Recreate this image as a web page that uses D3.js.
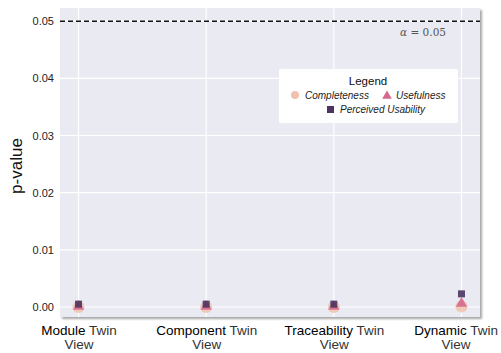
<!DOCTYPE html>
<html><head><meta charset="utf-8">
<script src="https://cdn.jsdelivr.net/npm/d3@7"></script>
<style>body{margin:0;background:#fff}</style>
</head><body><svg id="c" width="501" height="353"></svg>
<script>
const categories = ["Module", "Component", "Traceability", "Dynamic"];
const completeness = [0.0000, 0.0000, 0.0000, 0.0001];
const usefulness = [0.0001, 0.0001, 0.0001, 0.0006];
const perceivedUsability = [0.0005, 0.0005, 0.0005, 0.0023];
const yTicks = [0.00, 0.01, 0.02, 0.03, 0.04, 0.05];
const alpha = 0.05;

const svg = d3.select("#c");
const L = 60, R = 480, T = 8, B = 317;
const x = d3.scalePoint().domain(categories).range([L, R]).padding(0.145);
const y = d3.scaleLinear().domain([-0.00175, 0.0523]).range([B, T]);

const defs = svg.append("defs");
const f = defs.append("filter").attr("id","sh").attr("x","-5%").attr("y","-5%").attr("width","115%").attr("height","115%");
f.append("feDropShadow").attr("dx",2).attr("dy",2).attr("stdDeviation",1.2).attr("flood-color","#000").attr("flood-opacity",0.35);

svg.append("rect").attr("x",L).attr("y",T).attr("width",R-L).attr("height",B-T).attr("fill","#eaeaf2").attr("filter","url(#sh)");

// grid
svg.append("g").selectAll("line").data(yTicks).join("line")
  .attr("x1",L).attr("x2",R).attr("y1",d=>y(d)).attr("y2",d=>y(d))
  .attr("stroke","#fff").attr("stroke-width",1.2);
svg.append("g").selectAll("line").data(categories).join("line")
  .attr("x1",d=>x(d)).attr("x2",d=>x(d)).attr("y1",T).attr("y2",B)
  .attr("stroke","#fff").attr("stroke-width",1.2);

// y axis
const yAxis = d3.axisLeft(y).tickValues(yTicks).tickFormat(d3.format(".2f")).tickSize(0).tickPadding(6);
const gy = svg.append("g").attr("transform",`translate(${L},0)`).call(yAxis);
gy.select(".domain").remove();
gy.selectAll("text").attr("font-family","Liberation Sans, Arial, sans-serif").attr("font-size",11).attr("fill","#222");

// x axis labels
const xAxis = d3.axisBottom(x).tickSize(0).tickFormat("");
const gx = svg.append("g").attr("transform",`translate(0,${B})`).call(xAxis);
gx.select(".domain").remove();
gx.selectAll(".tick").each(function(d){
  const t = d3.select(this).append("text").attr("text-anchor","middle")
    .attr("font-family","Liberation Sans, Arial, sans-serif").attr("font-size",13.5).attr("fill","#111");
  const l1 = t.append("tspan").attr("x",0).attr("y",18);
  l1.append("tspan").text(d).attr("fill","#000");
  l1.append("tspan").text(" Twin").attr("fill","#333");
  t.append("tspan").attr("x",0).attr("y",32).text("View").attr("fill","#333");
  // keep inside the right edge
  const bb = this.getBoundingClientRect();
  const over = bb.right - 498;
  if (over > 0) t.attr("transform",`translate(${-over},0)`);
});

svg.append("text").attr("transform","translate(22,166) rotate(-90)").attr("text-anchor","middle")
  .attr("font-family","Liberation Sans, Arial, sans-serif").attr("font-size",17).attr("fill","#111").text("p-value");

// alpha line
svg.append("line").attr("x1",L).attr("x2",R).attr("y1",y(alpha)).attr("y2",y(alpha))
  .attr("stroke","#111").attr("stroke-width",1.5).attr("stroke-dasharray","5,3");
svg.append("text").attr("x",446).attr("y",36).attr("text-anchor","end")
  .attr("font-family","DejaVu Serif, serif").attr("font-size",10.5).attr("fill","#555")
  .html('<tspan font-style="italic">α</tspan> = 0.05');

// markers
const cCol = "#f0c2ad", tCol = "#d4698d", sCol = "#4b3560";
svg.append("g").selectAll("circle").data(completeness).join("circle")
  .attr("cx",(d,i)=>x(categories[i])).attr("cy",d=>y(d)).attr("r",6).attr("fill",cCol).attr("opacity",0.85);
const tri = d3.symbol().type(d3.symbolTriangle).size(55);
svg.append("g").selectAll("path").data(usefulness).join("path")
  .attr("d",tri).attr("transform",(d,i)=>`translate(${x(categories[i])},${y(d)})`).attr("fill",tCol).attr("opacity",0.9);
svg.append("g").selectAll("rect").data(perceivedUsability).join("rect")
  .attr("x",(d,i)=>x(categories[i])-3.5).attr("y",d=>y(d)-3.5).attr("width",7).attr("height",7)
  .attr("fill",sCol).attr("opacity",0.9);

// legend
const lg = svg.append("g");
lg.append("rect").attr("x",279).attr("y",69).attr("width",179).attr("height",54).attr("rx",2).attr("fill","#fff");
lg.append("text").attr("x",368).attr("y",85).attr("text-anchor","middle")
  .attr("font-family","Liberation Sans, Arial, sans-serif").attr("font-size",11.5).attr("fill","#111").text("Legend");
const lf = "Liberation Sans, Arial, sans-serif";
lg.append("circle").attr("cx",295).attr("cy",95).attr("r",4).attr("fill",cCol);
lg.append("text").attr("x",305).attr("y",99).attr("font-family",lf).attr("font-size",10).attr("font-style","italic").attr("fill","#222").text("Completeness");
lg.append("path").attr("d",d3.symbol().type(d3.symbolTriangle).size(40)).attr("transform","translate(387,96)").attr("fill",tCol);
lg.append("text").attr("x",396).attr("y",99).attr("font-family",lf).attr("font-size",10).attr("font-style","italic").attr("fill","#222").text("Usefulness");
lg.append("rect").attr("x",327).attr("y",106).attr("width",7).attr("height",7).attr("fill",sCol);
lg.append("text").attr("x",340).attr("y",113).attr("font-family",lf).attr("font-size",10).attr("font-style","italic").attr("fill","#222").text("Perceived Usability");
</script></body></html>
